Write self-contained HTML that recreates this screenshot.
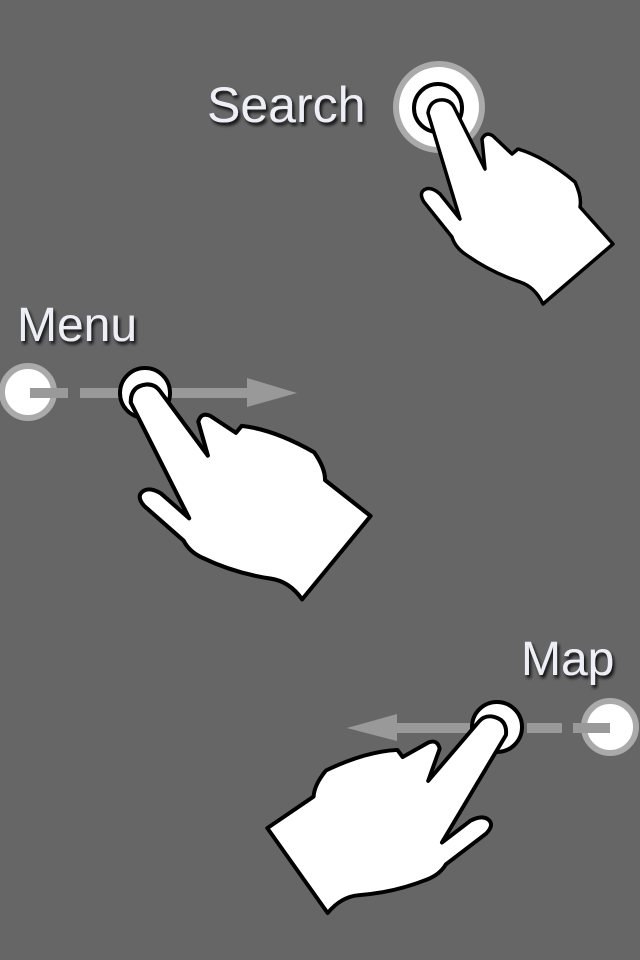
<!DOCTYPE html>
<html><head><meta charset="utf-8"><style>
html,body{margin:0;padding:0;background:#666;}
svg{display:block;}
text{font-family:"Liberation Sans",Arial,sans-serif;fill:#eeeef6;}
</style></head><body>
<svg width="640" height="960" viewBox="0 0 640 960">
<defs>
<filter id="sh" x="-20%" y="-20%" width="140%" height="160%"><feGaussianBlur in="SourceAlpha" stdDeviation="1.5"/><feOffset dx="2" dy="3"/><feComponentTransfer><feFuncA type="linear" slope="0.9"/></feComponentTransfer><feMerge><feMergeNode/><feMergeNode in="SourceGraphic"/></feMerge></filter>
<path id="hand" d="M -12,8 Q -10,-6 4,-5 Q 11,-4 14,2 L 45,64 L 42,34 Q 46,26 53,31 L 72,49 L 78,44 Q 105,52 135,77 Q 142,92 140,102 L 173,139 L 103,199 Q 95,182 80,177 Q 50,167 25,149 Q 15,142 12,132 L -16,97 Q -22,87 -14,84 Q -8,82 0,89 L 20,114 Z" fill="#fff" stroke="#000" stroke-width="3.5" stroke-linejoin="round"/>
</defs>
<rect width="640" height="960" fill="#666"/>

<g>
<text x="207" y="122" font-size="50" filter="url(#sh)">Search</text>
<circle cx="439" cy="107" r="43" fill="#fff" stroke="#aaa" stroke-width="6"/>
<circle cx="438" cy="108" r="24" fill="#fff" stroke="#000" stroke-width="4"/>
<use href="#hand" transform="translate(440,105)"/>
</g>

<g>
<text x="17" y="341" font-size="48" filter="url(#sh)">Menu</text>
<circle cx="28" cy="392" r="26" fill="#fff" stroke="#aaa" stroke-width="6"/>
<rect x="30" y="388" width="38" height="10" fill="#999"/>
<rect x="80" y="388" width="40" height="10" fill="#999"/>
<rect x="160" y="388" width="90" height="10" fill="#999"/>
<polygon points="247,378 297,393 247,407" fill="#999"/>
<circle cx="145" cy="393" r="25" fill="#fff" stroke="#000" stroke-width="4"/>
<use href="#hand" transform="translate(143,391) rotate(-10) scale(1.17)"/>
</g>

<g>
<text x="521" y="675" font-size="48" filter="url(#sh)">Map</text>
<circle cx="610" cy="727" r="26" fill="#fff" stroke="#aaa" stroke-width="6"/>
<rect x="573" y="723" width="37" height="10" fill="#999"/>
<rect x="527" y="723" width="35" height="10" fill="#999"/>
<rect x="395" y="723" width="90" height="10" fill="#999"/>
<polygon points="347,728 397,714 397,741" fill="#999"/>
<circle cx="497" cy="727" r="25" fill="#fff" stroke="#000" stroke-width="4"/>
<use href="#hand" transform="translate(495,723) scale(-1,1) rotate(-14) scale(1.13)"/>
</g>
</svg>
</body></html>
